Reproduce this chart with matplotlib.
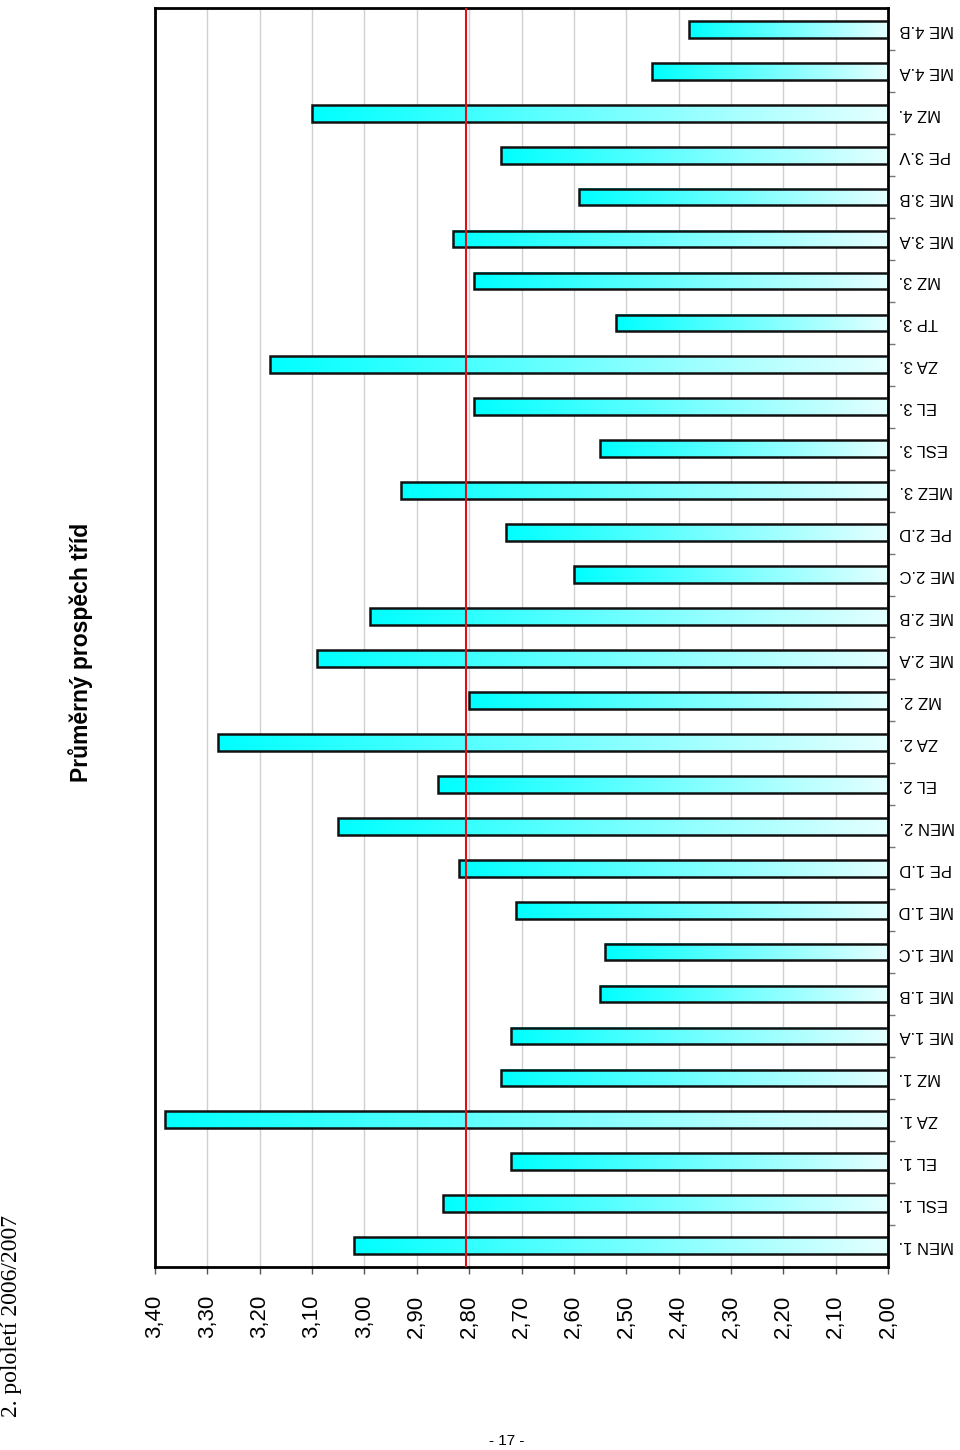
import numpy as np
import matplotlib
matplotlib.use("Agg")
import matplotlib.pyplot as plt
from matplotlib.colors import LinearSegmentedColormap
from matplotlib.ticker import FuncFormatter, MultipleLocator, FixedLocator

# ---- data ----
tridy = ["MEN 1.", "ESL 1.", "EL 1.", "ZA 1.", "MZ 1.", "ME 1.A", "ME 1.B", "ME 1.C",
         "ME 1.D", "PE 1.D", "MEN 2.", "EL 2.", "ZA 2.", "MZ 2.", "ME 2.A", "ME 2.B",
         "ME 2.C", "PE 2.D", "MEZ 3.", "ESL 3.", "EL 3.", "ZA 3.", "TP 3.", "MZ 3.",
         "ME 3.A", "ME 3.B", "PE 3.V", "MZ 4.", "ME 4.A", "ME 4.B"]
prumery = [3.02, 2.85, 2.72, 3.38, 2.74, 2.72, 2.55, 2.54,
           2.71, 2.82, 3.05, 2.86, 3.28, 2.80, 3.09, 2.99,
           2.60, 2.73, 2.93, 2.55, 2.79, 3.18, 2.52, 2.79,
           2.83, 2.59, 2.74, 3.10, 2.45, 2.38]
celkovy_prumer = 2.806
osa_min, osa_max, krok = 2.00, 3.40, 0.10

title = "Průměrný prospěch tříd"
header = "2. pololetí 2006/2007"
page = "- 17 -"

plt.rcParams['font.family'] = ['Liberation Sans', 'DejaVu Sans']

fig = plt.figure(figsize=(9.6, 14.5), dpi=100)
ax = fig.add_axes([155/960, 1 - 1266.7/1450, (888-155)/960, (1266.7-8.3)/1450])

y = np.arange(len(tridy))
bar_h = 0.4
bars = ax.barh(y, np.array(prumery) - osa_min, left=osa_min, height=bar_h,
               facecolor='none', edgecolor='#111111', linewidth=1.8, zorder=3)

cmap = LinearSegmentedColormap.from_list("grad", ["#00ffff", "#e4ffff"])
grad = np.linspace(0, 1, 256).reshape(1, -1)
for b in bars:
    x0, w = b.get_x(), b.get_width()
    y0, h = b.get_y(), b.get_height()
    ax.imshow(grad, cmap=cmap, extent=(x0 + w, x0, y0, y0 + h),
              aspect='auto', interpolation='bilinear', zorder=2)

ax.axvline(celkovy_prumer, color='#e0101a', linewidth=1.5, zorder=4)

ax.set_xlim(osa_max, osa_min)
ax.set_ylim(-0.5, len(tridy) - 0.5)
ax.set_aspect('auto')

# x axis (values)
ax.xaxis.set_major_locator(MultipleLocator(krok))
ax.xaxis.set_major_formatter(FuncFormatter(lambda v, p: f"{v:.2f}".replace('.', ',')))
ax.grid(axis='x', color='#d0d0d0', linewidth=1.0, zorder=0)
ax.set_axisbelow(True)
ax.tick_params(axis='x', direction='out', length=5, width=1, color='#555555',
               labelsize=16, labelrotation=90, pad=15)

# y axis (categories) on the right
ax.yaxis.tick_right()
ax.yaxis.set_major_locator(FixedLocator(y))
ax.set_yticklabels(tridy)
ax.yaxis.set_minor_locator(FixedLocator(y[:-1] + 0.5))
ax.tick_params(axis='y', which='major', length=0, pad=8, labelsize=12)
ax.tick_params(axis='y', which='minor', length=5, width=1, color='#777777', direction='out')
for lab in ax.get_yticklabels():
    lab.set_rotation(180)
    lab.set_va('center')
    lab.set_ha('left')

for s in ax.spines.values():
    s.set_linewidth(2)
    s.set_color('black')

fig.text(81/960, 1 - 652/1450, title, rotation=90, ha='center', va='center',
         fontsize=16.5, fontweight='bold')
fig.text(12/960, 1 - 1316/1450, header, rotation=90, ha='center', va='center',
         fontsize=17, family=['Liberation Serif', 'DejaVu Serif'])
fig.text(507/960, 1 - 1441/1450, page, ha='center', va='center', fontsize=11)

fig.savefig("out.png", dpi=100)
